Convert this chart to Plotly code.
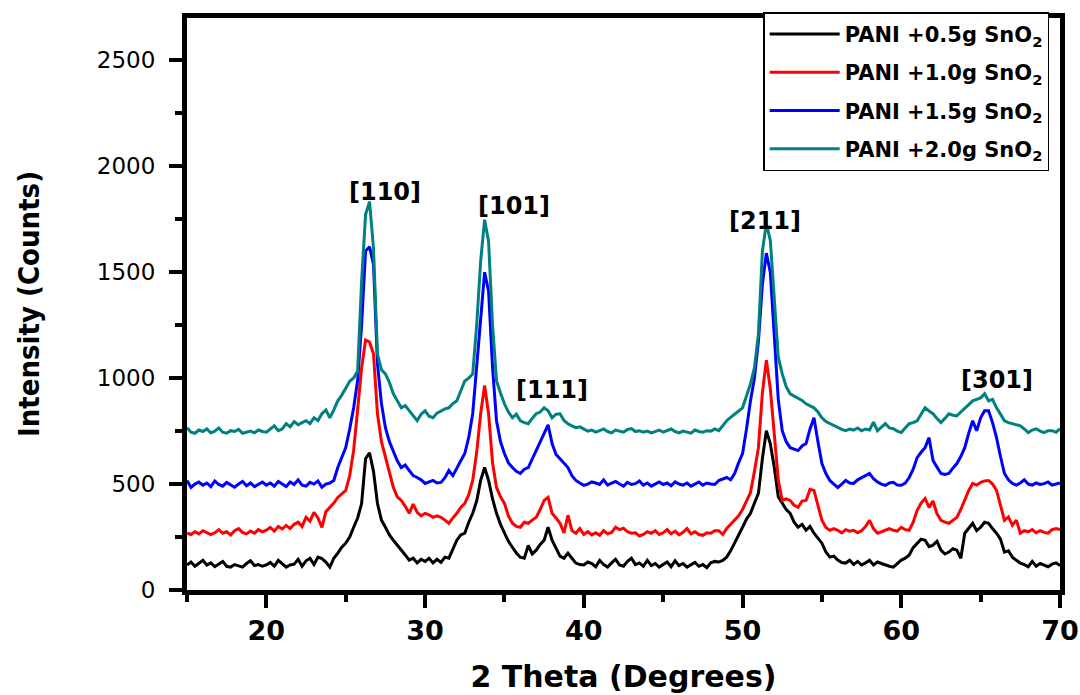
import plotly.graph_objects as go

# XRD scan: 2-theta from 15 to 70 degrees in 0.25 degree steps
two_theta = [round(15 + 0.25 * i, 2) for i in range(221)]

series_names = [
    "PANI +0.5g SnO<sub>2</sub>",
    "PANI +1.0g SnO<sub>2</sub>",
    "PANI +1.5g SnO<sub>2</sub>",
    "PANI +2.0g SnO<sub>2</sub>",
]

counts_05 = [
    118, 132, 112, 125, 140, 118, 128, 110, 122, 135, 112, 108, 120, 115, 108, 125, 138, 115, 120, 112,
    118, 130, 112, 140, 125, 108, 118, 122, 145, 112, 138, 150, 120, 155, 148, 132, 108, 150, 174, 202,
    221, 250, 296, 340, 408, 620, 648, 560, 408, 330, 296, 260, 235, 210, 188, 165, 141, 150, 128, 145,
    135, 150, 128, 145, 130, 155, 150, 190, 235, 260, 268, 320, 362, 420, 517, 578, 517, 430, 362, 310,
    268, 230, 202, 175, 155, 150, 210, 170, 188, 215, 235, 296, 235, 195, 160, 150, 174, 150, 127, 120,
    118, 132, 125, 110, 140, 120, 108, 128, 145, 118, 112, 135, 150, 120, 128, 112, 140, 115, 125, 108,
    120, 132, 110, 138, 115, 125, 108, 118, 130, 112, 120, 105, 128, 135, 132, 140, 155, 185, 220, 255,
    296, 335, 362, 410, 456, 620, 752, 690, 578, 440, 409, 380, 362, 320, 296, 310, 282, 300, 268, 245,
    221, 180, 155, 160, 141, 130, 127, 140, 120, 135, 118, 128, 140, 118, 132, 125, 118, 112, 108, 125,
    141, 150, 165, 200, 221, 240, 235, 205, 212, 230, 188, 170, 179, 195, 188, 150, 268, 290, 315, 280,
    296, 320, 315, 290, 268, 240, 179, 185, 155, 140, 127, 120, 110, 135, 112, 125, 118, 110, 122, 128,
    115,
]

counts_10 = [
    268, 262, 275, 265, 280, 272, 262, 270, 285, 268, 275, 260, 280, 290, 272, 265, 278, 268, 285, 275,
    282, 295, 278, 300, 288, 305, 290, 310, 320, 300, 343, 325, 367, 340, 296, 370, 390, 410, 437, 455,
    470, 540, 660, 850, 1048, 1180, 1170, 1114, 832, 700, 625, 560, 484, 440, 423, 395, 362, 405, 367, 350,
    362, 355, 343, 350, 343, 330, 315, 340, 362, 390, 409, 450, 517, 650, 832, 965, 832, 600, 484, 440,
    409, 350, 315, 300, 296, 320, 315, 330, 343, 380, 423, 437, 362, 340, 315, 270, 353, 280, 268, 290,
    262, 275, 260, 270, 258, 280, 265, 272, 296, 285, 292, 275, 268, 270, 255, 262, 275, 268, 280, 262,
    270, 285, 265, 278, 260, 272, 290, 265, 275, 262, 258, 270, 268, 280, 280, 262, 290, 310, 329, 350,
    380, 420, 460, 560, 672, 930, 1085, 950, 738, 520, 423, 430, 423, 400, 390, 420, 423, 475, 470, 400,
    329, 295, 282, 290, 282, 270, 285, 278, 282, 270, 280, 300, 329, 290, 268, 275, 282, 290, 282, 278,
    296, 285, 282, 320, 376, 410, 432, 390, 420, 360, 329, 320, 315, 330, 343, 380, 423, 470, 503, 495,
    508, 515, 517, 500, 470, 400, 329, 345, 306, 330, 268, 280, 275, 285, 270, 280, 272, 268, 285, 290,
    285,
]

counts_15 = [
    517, 484, 500, 510, 495, 505, 488, 515, 498, 490, 508, 495, 485, 500, 512, 492, 505, 488, 498, 510,
    495, 505, 490, 512, 500, 488, 510, 498, 520, 495, 490, 508, 500, 515, 485, 500, 505, 517, 578, 630,
    672, 760, 860, 990, 1250, 1600, 1620, 1537, 1067, 880, 766, 700, 658, 610, 578, 590, 564, 540, 531, 520,
    503, 510, 517, 505, 508, 530, 564, 540, 578, 610, 644, 720, 832, 1050, 1302, 1500, 1410, 1050, 799, 700,
    644, 600, 578, 560, 550, 570, 578, 620, 658, 700, 738, 780, 691, 640, 620, 600, 578, 540, 517, 505,
    494, 500, 510, 505, 498, 520, 495, 505, 512, 500, 490, 508, 498, 502, 515, 495, 505, 490, 500, 510,
    498, 505, 492, 510, 500, 495, 505, 490, 500, 510, 495, 505, 500, 498, 517, 525, 531, 520, 550, 600,
    644, 760, 893, 1000, 1175, 1443, 1590, 1500, 1208, 900, 752, 700, 672, 665, 658, 680, 691, 760, 813, 700,
    597, 550, 517, 500, 484, 500, 517, 505, 503, 520, 531, 540, 550, 525, 510, 500, 494, 505, 508, 495,
    494, 505, 531, 570, 625, 650, 672, 719, 611, 580, 550, 545, 550, 575, 597, 630, 672, 740, 799, 752,
    813, 846, 846, 790, 719, 630, 550, 520, 503, 495, 505, 520, 500, 495, 505, 498, 502, 510, 495, 500,
    505,
]

counts_20 = [
    766, 745, 740, 755, 748, 760, 742, 750, 765, 745, 740, 752, 748, 758, 740, 745, 750, 742, 755, 748,
    745, 760, 775, 752, 760, 785, 770, 795, 780, 790, 799, 785, 813, 800, 832, 850, 813, 850, 893, 920,
    954, 985, 1001, 1034, 1457, 1772, 1833, 1612, 1114, 1040, 1020, 980, 926, 890, 860, 870, 846, 820, 799, 830,
    846, 820, 813, 835, 846, 855, 860, 880, 893, 940, 987, 1000, 1020, 1250, 1551, 1748, 1645, 1250, 987, 930,
    879, 840, 813, 830, 799, 790, 785, 810, 832, 840, 860, 846, 813, 830, 832, 800, 785, 775, 766, 770,
    761, 750, 755, 745, 752, 760, 748, 742, 755, 750, 745, 758, 762, 748, 752, 745, 750, 742, 748, 755,
    745, 752, 760, 748, 742, 750, 745, 740, 755, 748, 745, 752, 750, 760, 752, 775, 799, 815, 832, 845,
    860, 920, 973, 1050, 1208, 1600, 1730, 1650, 1363, 1100, 1020, 960, 926, 915, 907, 895, 879, 870, 860, 840,
    813, 795, 785, 775, 766, 758, 752, 760, 755, 765, 752, 760, 755, 792, 752, 770, 785, 765, 761, 750,
    743, 765, 785, 790, 799, 830, 860, 845, 832, 810, 790, 810, 832, 825, 822, 840, 860, 875, 893, 900,
    907, 926, 893, 900, 860, 830, 799, 790, 785, 780, 775, 760, 743, 755, 761, 750, 743, 752, 752, 745,
    761,
]

series_counts = [counts_05, counts_10, counts_15, counts_20]
series_colors = ["#000000", "#FF0000", "#0000FF", "#008080"]

# Miller indices of the SnO2 reflections
peak_labels = ["[110]", "[101]", "[111]", "[211]", "[301]"]

fig = go.Figure()
for i, (name, counts, color) in enumerate(zip(series_names, series_counts, series_colors)):
    fig.add_trace(go.Scatter(
        x=two_theta, y=counts, mode="lines", name=name,
        legendgroup=f"g{i}",
        line=dict(color=color, width=3),
    ))

# label anchor points (degrees, counts)
label_pos = [(27.45, 1880), (35.57, 1814), (38.02, 945), (51.42, 1744), (66.0, 992)]
for text, (lx, ly) in zip(peak_labels, label_pos):
    fig.add_annotation(
        x=lx, y=ly, text=text, showarrow=False,
        font=dict(family="DejaVu Sans", size=24, color="black", weight="bold"),
    )

axis_common = dict(
    showline=True, linecolor="black", linewidth=5, mirror=True,
    ticks="outside", tickcolor="black", tickwidth=4, ticklen=13,
    showgrid=False, zeroline=False, automargin=False,
)

fig.update_xaxes(
    range=[15, 70], tick0=0, dtick=10,
    minor=dict(dtick=5, ticks="outside", ticklen=7, tickwidth=4, tickcolor="black", showgrid=False),
    tickfont=dict(family="DejaVu Sans", size=27, color="black", weight="bold"),
    ticklabelstandoff=0,
    title=dict(text="2 Theta (Degrees)", standoff=22,
               font=dict(family="DejaVu Sans", size=30, color="black", weight="bold")),
    **axis_common,
)
fig.update_yaxes(
    range=[0, 2700], tick0=0, dtick=500,
    minor=dict(dtick=250, ticks="outside", ticklen=7, tickwidth=4, tickcolor="black", showgrid=False),
    tickfont=dict(family="DejaVu Sans", size=23, color="black"),
    ticklabelstandoff=9,
    title=dict(text="Intensity (Counts)", standoff=50,
               font=dict(family="DejaVu Sans Condensed, Liberation Sans Narrow, Liberation Sans",
                         size=29, color="black", weight="bold")),
    **axis_common,
)

fig.update_layout(
    width=1080, height=695,
    margin=dict(l=187, r=20, t=15, b=105),
    paper_bgcolor="white", plot_bgcolor="white",
    legend=dict(
        x=0.66, y=1.01, xanchor="left", yanchor="top",
        bgcolor="white", bordercolor="black", borderwidth=1.5,
        itemwidth=70, tracegroupgap=8,
        font=dict(family="DejaVu Sans", size=21, color="black", weight="bold"),
    ),
)

fig.write_html("out.html")
